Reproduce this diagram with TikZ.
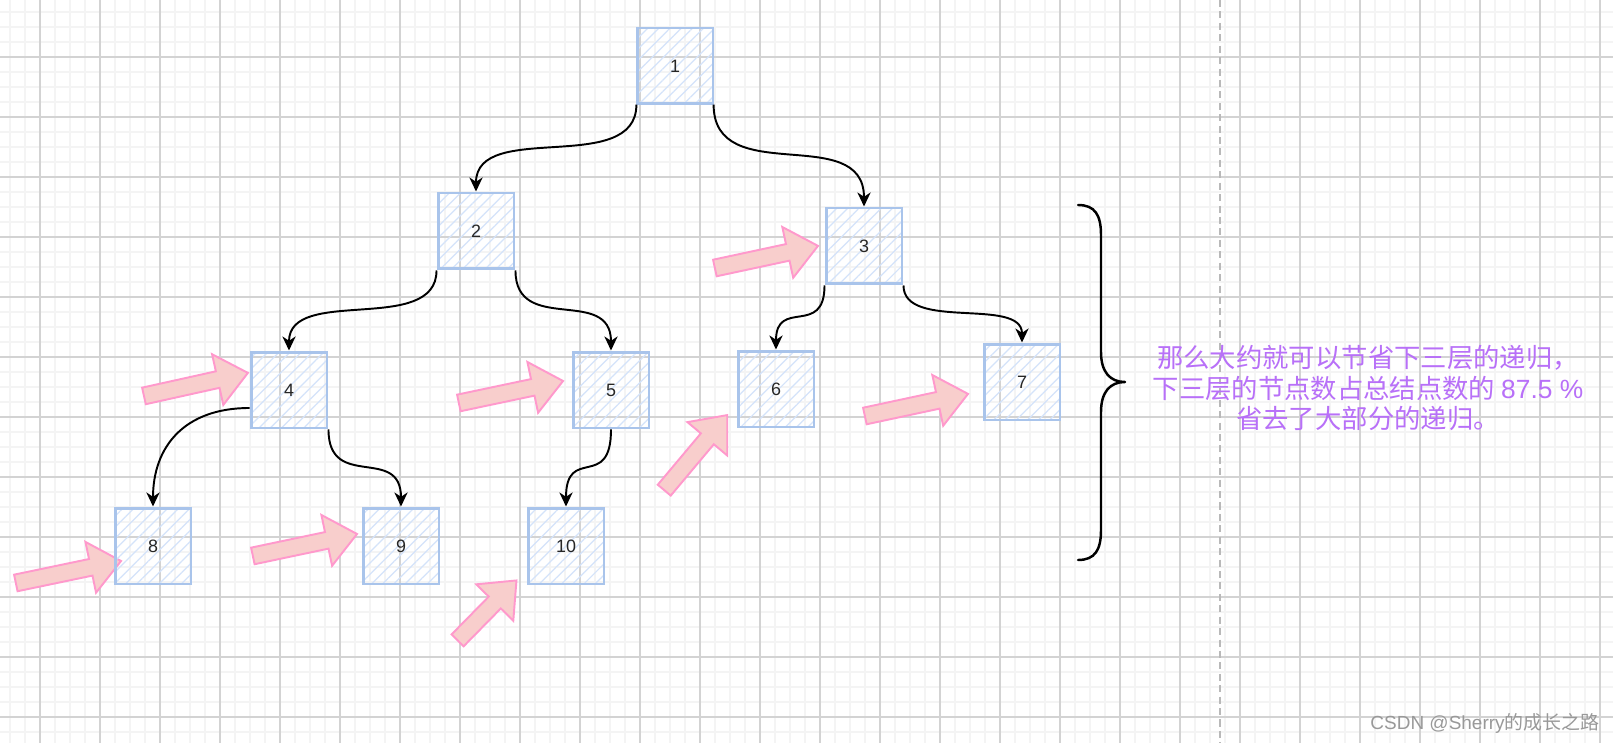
\documentclass[tikz,border=0pt]{standalone}
\usepackage{fontspec}
\setmainfont{Liberation Sans}
\newfontfamily\cjk{Noto Sans CJK SC}
\usetikzlibrary{arrows.meta,shapes.arrows,patterns.meta}

\definecolor{minorcol}{HTML}{F4F4F4}
\definecolor{majorcol}{HTML}{D3D3D3}
\definecolor{boxline}{HTML}{A9C4EB}
\definecolor{boxhatch}{HTML}{D4E3FA}
\definecolor{pinkfill}{HTML}{F8CECC}
\definecolor{pinkline}{HTML}{FF99CC}
\definecolor{notecol}{HTML}{B870F8}

\tikzset{
  minorline/.style={minorcol,line width=1pt},
  majorline/.style={majorcol,line width=0.6pt},
  divider/.style={gray!55,line width=1.1pt,dash pattern=on 4pt off 2.5pt},
  treenode/.style={rectangle,draw=boxline,line width=1.7pt,minimum size=1.52cm,inner sep=0pt,
    pattern={Lines[angle=45,distance=4.5pt,line width=0.7pt]},pattern color=boxhatch,
    font=\fontsize{10.2}{12}\selectfont,text=black!85},
  link/.style={line width=1.1pt,-{Stealth[length=8pt,width=7.5pt,inset=2.5pt]}},
  hint/.style={single arrow,draw=pinkline,fill=pinkfill,line width=1.1pt,
    inner xsep=0pt,inner ysep=0.15cm,single arrow head extend=0.35cm,single arrow tip angle=80},
  bracket/.style={line width=1.4pt,line cap=round,line join=round},
  note/.style={align=center,text=notecol,font=\cjk\fontsize{15}{17.6}\selectfont},
  watermark/.style={text=gray!80,font=\fontsize{10.8}{12}\selectfont},
}

\begin{document}
\begin{tikzpicture}[x=0.02cm,y=-0.02cm]
\useasboundingbox (0,0) rectangle (1613,743);
\fill[white] (0,0) rectangle (1613,743);
% grid
\foreach \x in {10,25,...,1613} \draw[minorline] (\x,0) -- (\x,743);
\foreach \y in {12,27,...,743} \draw[minorline] (0,\y) -- (1613,\y);
\foreach \x in {40,100,...,1613} \draw[majorline] (\x,0) -- (\x,743);
\foreach \y in {57,117,...,743} \draw[majorline] (0,\y) -- (1613,\y);
\draw[divider] (1220,0) -- (1220,743);

% pink pointers
\node at (63.5,573) [hint,minimum height=2.15cm,rotate=11.8] (p8) {};
\node at (300,546) [hint,minimum height=2.13cm,rotate=11.9] (p9) {};
\node at (483.5,614) [hint,minimum height=1.68cm,rotate=45.5] (p10) {};
\node at (191,385.5) [hint,minimum height=2.13cm,rotate=12.5] (p4) {};
\node at (506,393) [hint,minimum height=2.13cm,rotate=11.9] (p5) {};
\node at (692.5,456.5) [hint,minimum height=1.96cm,rotate=50] (p6) {};
\node at (761.5,258) [hint,minimum height=2.11cm,rotate=12.1] (p3) {};
\node at (911.5,406) [hint,minimum height=2.11cm,rotate=12.1] (p7) {};

% tree
\node at (675,66) [treenode] (n1) {1};
\node at (476,231) [treenode] (n2) {2};
\node at (864,246) [treenode] (n3) {3};
\node at (289,390) [treenode] (n4) {4};
\node at (611,390) [treenode] (n5) {5};
\node at (776,389) [treenode] (n6) {6};
\node at (1022,382) [treenode] (n7) {7};
\node at (153,546) [treenode] (n8) {8};
\node at (401,546) [treenode] (n9) {9};
\node at (566,546) [treenode] (n10) {10};
\draw[link] (n1.south west) .. controls +(0,72) and +(0,-72) .. (n2.north);
\draw[link] (n1.south east) .. controls +(0,85) and +(0,-85) .. (n3.north);
\draw[link] (n2.south west) .. controls +(0,65) and +(0,-65) .. (n4.north);
\draw[link] (n2.south east) .. controls +(0,65) and +(0,-65) .. (n5.north);
\draw[link] (n3.south west) .. controls +(0,52) and +(0,-52) .. (n6.north);
\draw[link] (n3.south east) .. controls +(0,46) and +(0,-46) .. (n7.north);
\draw[link] ([yshift=-0.36cm]n4.west) .. controls +(-65,0) and +(0,-60) .. (n8.north);
\draw[link] (n4.south east) .. controls +(0,62) and +(0,-62) .. (n9.north);
\draw[link] (n5.south) .. controls +(0,62) and +(0,-62) .. (n10.north);

% brace and remark
\draw[bracket] (1078,205) .. controls (1095,205) and (1101,215) .. (1101,235) -- (1101,352)
  .. controls (1101,372) and (1110,382) .. (1125,382)
  .. controls (1110,382) and (1101,392) .. (1101,412) -- (1101,530)
  .. controls (1101,550) and (1095,560) .. (1078,560);
\node at (1368,388) [note] (summary) {那么大约就可以节省下三层的递归，\\下三层的节点数占总结点数的 {\rmfamily 87.5 \%}\\省去了大部分的递归。};
\node at (1485,723) [watermark] (mark) {CSDN @Sherry{\cjk 的成长之路}};
\end{tikzpicture}
\end{document}
